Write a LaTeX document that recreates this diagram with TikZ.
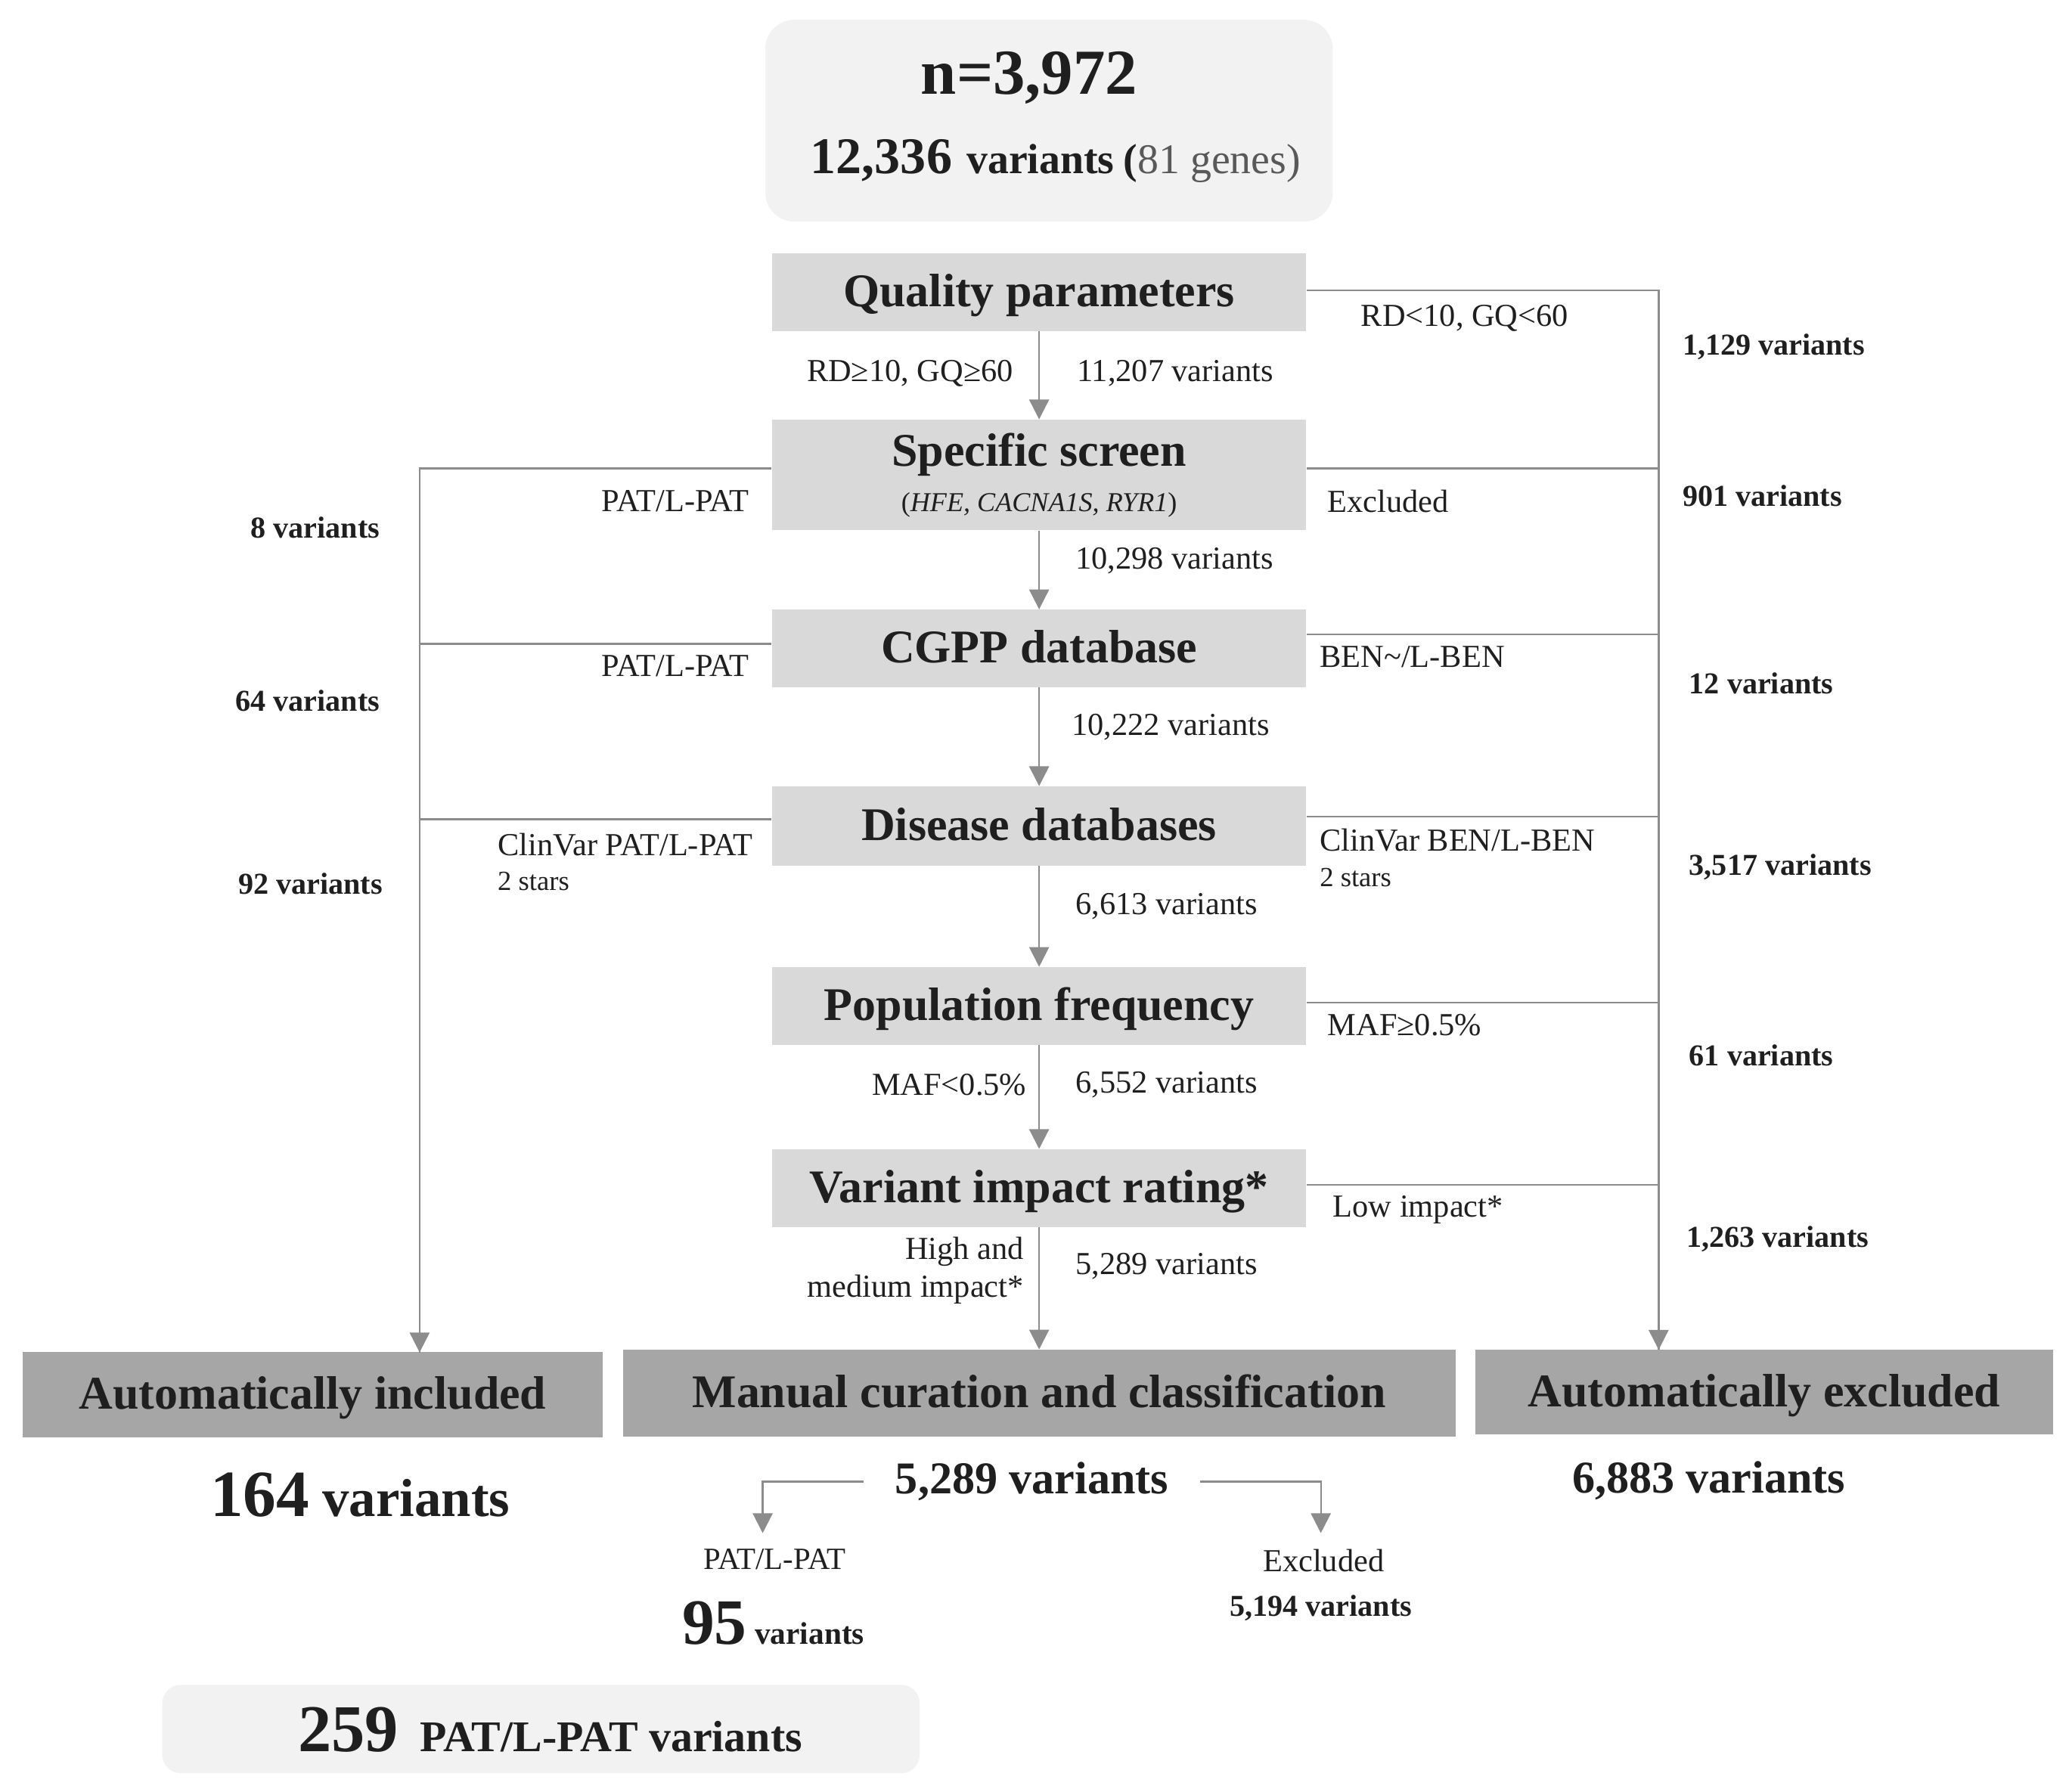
\documentclass[tikz,border=0pt]{standalone}
\usepackage{fontspec}
\setmainfont{Liberation Serif}
\usetikzlibrary{arrows.meta,calc}
\definecolor{boxlight}{HTML}{F2F2F2}
\definecolor{boxmid}{HTML}{D9D9D9}
\definecolor{boxdark}{HTML}{A6A6A6}
\definecolor{linegray}{HTML}{8C8C8C}
\definecolor{txtgray}{HTML}{595959}
\definecolor{txt}{HTML}{1F1F1F}
\newcommand\myfs[1]{\fontsize{#1}{#1}\selectfont}
\begin{document}
\begin{tikzpicture}[x=1pt,y=-1pt,
  boxbase/.style={fill=boxmid, minimum width=405pt, minimum height=59pt, inner sep=0pt, font=\myfs{35.5}\bfseries, text=txt},
  stepbox/.style={boxbase, text height=30pt, text depth=8pt},
  endbox/.style={fill=boxdark, minimum height=65pt, inner sep=0pt, font=\myfs{35.5}\bfseries, text=txt, text height=30pt, text depth=8pt},
  lbl/.style={inner sep=0pt, font=\myfs{24.3}, text=txt},
  small/.style={inner sep=0pt, font=\myfs{21}, text=txt},
  cnt/.style={inner sep=0pt, font=\myfs{23}\bfseries, text=txt},
  conn/.style={draw=linegray, line width=1.3pt},
  arr/.style={conn, -{Triangle[width=15pt,length=15pt]}},
]
\useasboundingbox (0,0) rectangle (1568,1358);

% top box
\node[fill=boxlight, rounded corners=22pt, minimum width=430pt, minimum height=153pt, inner sep=0pt] (top) at (795,91.5) {};
\node[inner sep=0pt, font=\myfs{48.6}\bfseries, text=txt] (nn) at (780,59) {n=3,972};
\node[inner sep=0pt, text=txt] (nv) at (800,122) {{\myfs{39}\bfseries 12,336}\hspace{11pt}{\myfs{32}\bfseries variants}\hspace{7pt}{\myfs{32}\bfseries(}{\myfs{32}\color{txtgray}81 genes)}};

% step boxes
\node[stepbox] (qp) at (787.5,221.5) {Quality parameters};
\node[boxbase, minimum height=84pt, align=center] (ss) at (787.5,360) {Specific screen\\[-1pt]{\myfs{20.7}\mdseries(\textit{HFE, CACNA1S, RYR1})}};
\node[stepbox] (cg) at (787.5,491.5) {CGPP database};
\node[stepbox, minimum height=60pt] (dd) at (787.5,626) {Disease databases};
\node[stepbox] (pf) at (787.5,762.5) {Population frequency};
\node[stepbox] (vir) at (787.5,900.5) {Variant impact rating*};

% end boxes
\node[endbox, minimum width=440pt] (ai) at (237,1057) {Automatically included};
\node[endbox, minimum width=631pt, minimum height=66pt] (mc) at (787.5,1056) {Manual curation and classification};
\node[endbox, minimum width=438pt, minimum height=64pt] (ae) at (1337,1055) {Automatically excluded};

\coordinate (aeIn) at (1257,1023);
\coordinate (aiIn) at (318,1025);

% main vertical arrows
\draw[arr] (qp.south) -- (ss.north);
\draw[arr] (ss.south) -- (cg.north);
\draw[arr] (cg.south) -- (dd.north);
\draw[arr] (dd.south) -- (pf.north);
\draw[arr] (pf.south) -- (vir.north);
\draw[arr] (vir.south) -- (mc.north);

% right side (excluded)
\draw[conn] ([yshift=5pt]ss.east) -| (aeIn);
\draw[conn] ([yshift=10.5pt]cg.east) -| (aeIn);
\draw[conn] ([yshift=7pt]dd.east) -| (aeIn);
\draw[conn] ([yshift=2.5pt]pf.east) -| (aeIn);
\draw[conn] ([yshift=2.5pt]vir.east) -| (aeIn);
\draw[arr] ([yshift=1.5pt]qp.east) -| (aeIn);

% left side (included)
\draw[conn] ([yshift=3.5pt]cg.west) -| (aiIn);
\draw[conn] ([yshift=5pt]dd.west) -| (aiIn);
\draw[arr] ([yshift=5pt]ss.west) -| (aiIn);

% labels centre column
\node[lbl, anchor=east] (l1) at (768,283) {RD≥10, GQ≥60};
\node[lbl, anchor=west] (l2) at (816,283) {11,207 variants};
\node[lbl, anchor=west] (l3) at (815,425) {10,298 variants};
\node[lbl, anchor=west] (l4) at (812,551) {10,222 variants};
\node[lbl, anchor=west] (l5) at (815,687) {6,613 variants};
\node[lbl, anchor=east] (l6) at (778,822) {MAF<0.5\%};
\node[lbl, anchor=west] (l7) at (815,822) {6,552 variants};
\node[lbl, anchor=east, align=right] (l8) at (776,963) {High and\\[4pt]medium impact*};
\node[lbl, anchor=west] (l9) at (815,960) {5,289 variants};

% labels right
\node[lbl] (r1) at (1110,241) {RD<10, GQ<60};
\node[lbl, anchor=west] (r2) at (1006,380) {Excluded};
\node[lbl, anchor=west] (r3) at (1000,498) {BEN\textasciitilde/L-BEN};
\node[lbl, anchor=west] (r4) at (1000,637) {ClinVar BEN/L-BEN};
\node[small, anchor=west] (r4b) at (1000,665) {2 stars};
\node[lbl, anchor=west] (r5) at (1006,777) {MAF≥0.5\%};
\node[lbl, anchor=west] (r6) at (1010,917) {Low impact*};

\node[cnt, anchor=west] (c1) at (1275,263) {1,129 variants};
\node[cnt, anchor=west] (c2) at (1275,376) {901 variants};
\node[cnt, anchor=west] (c3) at (1280,518) {12 variants};
\node[cnt, anchor=west] (c4) at (1280,657) {3,517 variants};
\node[cnt, anchor=west] (c5) at (1280,800) {61 variants};
\node[cnt, anchor=west] (c6) at (1278,939) {1,263 variants};

% labels left
\node[lbl, anchor=east] (p1) at (568,380) {PAT/L-PAT};
\node[lbl, anchor=east] (p2) at (568,505) {PAT/L-PAT};
\node[lbl, anchor=west] (p3) at (377,640) {ClinVar PAT/L-PAT};
\node[small, anchor=west] (p3b) at (377,668) {2 stars};
\node[cnt, anchor=east] (d1) at (288,400) {8 variants};
\node[cnt, anchor=east] (d2) at (288,531) {64 variants};
\node[cnt, anchor=east] (d3) at (290,670) {92 variants};

% results
\node[inner sep=0pt, font=\bfseries, text=txt] (r164) at (273,1133) {{\myfs{50}164}\hspace{10pt}{\myfs{40.6}variants}};
\node[inner sep=0pt, inner xsep=24pt, font=\myfs{34.5}\bfseries, text=txt] (m5289) at (782,1123) {5,289 variants};
\node[inner sep=0pt, font=\myfs{34.5}\bfseries, text=txt] (r6883) at (1295,1122) {6,883 variants};
\coordinate (patIn) at (578,1162);
\coordinate (excIn) at (1001,1162);
\draw[arr] (m5289.west) -| (patIn);
\draw[arr] (m5289.east) -| (excIn);
\node[lbl, font=\myfs{23.4}] (patlbl) at (587,1182) {PAT/L-PAT};
\node[inner sep=0pt, font=\bfseries, text=txt] (r95) at (586,1230) {{\myfs{49}95}\hspace{6pt}{\myfs{23.7}variants}};
\node[lbl, font=\myfs{24.3}] (exlbl) at (1003,1183) {Excluded};
\node[cnt] (r5194) at (1001,1219) {5,194 variants};

% final box
\node[fill=boxlight, rounded corners=14pt, minimum width=574pt, minimum height=67pt, inner sep=0pt] (fin) at (410,1310.5) {};
\node[inner sep=0pt, font=\bfseries, text=txt] (fintxt) at (417,1311) {{\myfs{50.7}259}\hspace{16pt}{\myfs{33.2}PAT/L-PAT variants}};
\end{tikzpicture}
\end{document}
